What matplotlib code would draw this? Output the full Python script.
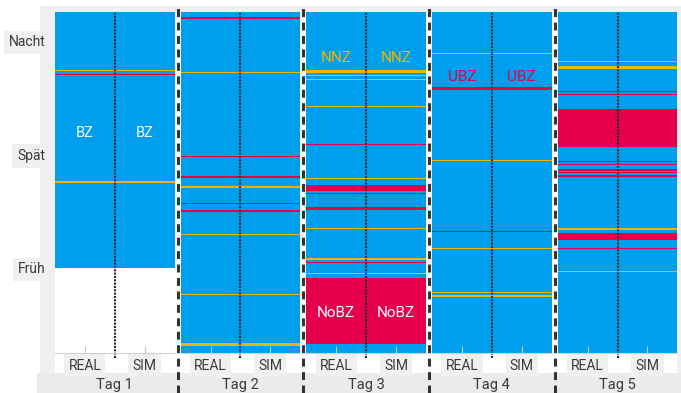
import matplotlib.pyplot as plt
from matplotlib.patches import Rectangle
from matplotlib.lines import Line2D

plt.rcParams['font.family'] = ['Roboto', 'DejaVu Sans']

# -----------------------------
# Daten (Stunden, 0 = unten, 24 = oben)
# -----------------------------
tage = ['Tag 1', 'Tag 2', 'Tag 3', 'Tag 4', 'Tag 5']
spalten = ['REAL', 'SIM']
schichten = ['Früh', 'Spät', 'Nacht']
schicht_beginn = [6, 14, 22]

# Beginn der BZ (blau) je Tag
bz_beginn = [6, 0, 0, 0, 0]

# NNZ (gelb): Mitte und Dauer in Stunden
nnz_mitte = [
    [22.06, 19.89, 12.05],
    [21.99, 19.78, 11.68, 8.37, 4.14, 0.61],
    [19.87, 19.57, 19.29, 17.36, 12.31, 8.79, 6.62, 6.13, 5.62],
    [21.12, 13.55, 10.36, 9.02, 7.38, 4.28, 4.02],
    [20.53, 20.11, 18.89, 17.41, 11.01, 8.74, 5.73],
]
nnz_dauer = [
    [0.05, 0.08, 0.15],
    [0.05, 0.03, 0.15, 0.04, 0.10, 0.17],
    [0.22, 0.05, 0.10, 0.05, 0.03, 0.05, 0.10, 0.06, 0.05],
    [0.10, 0.10, 0.03, 0.03, 0.04, 0.04, 0.12],
    [0.05, 0.17, 0.05, 0.05, 0.04, 0.08, 0.10],
]

# UBZ (rot): Mitte und Dauer in Stunden
ubz_mitte = [
    [19.64],
    [23.64, 13.83, 12.42, 11.13, 10.55, 10.03, 9.65, 6.27],
    [14.86, 14.72, 11.63, 11.24, 10.18, 6.39],
    [18.63, 15.72, 12.19, 8.55],
    [18.44, 18.23, 15.85, 13.50, 13.27, 12.90, 12.73, 12.47, 11.77, 8.22, 7.38],
]
ubz_dauer = [
    [0.05],
    [0.14, 0.06, 0.17, 0.05, 0.09, 0.15, 0.05, 0.06],
    [0.03, 0.07, 0.42, 0.06, 0.26, 0.05],
    [0.20, 0.05, 0.06, 0.09],
    [0.06, 0.10, 2.70, 0.10, 0.08, 0.12, 0.05, 0.12, 0.06, 0.52, 0.07],
]

# NoBZ-Block an Tag 3
nobz_tag = 2
nobz_beginn = 0.63
nobz_dauer = 4.63

BLAU = '#009fee'
ROT = '#e6004c'
GELB = '#f0b400'
GRAU = '#f0f0f0'
TEXT = '#3a3a3a'

W, H = 681, 393

# -----------------------------
# Figur
# -----------------------------
fig = plt.figure(figsize=(W / 100, H / 100), dpi=100)

# Hintergruende
fig.patches.append(Rectangle((40 / W, 0), 641 / W, 387 / H, transform=fig.transFigure,
                             fc=GRAU, ec='none', zorder=-10))
fig.patches.append(Rectangle((55 / W, 1 - 373 / H), 622 / W, 360.5 / H, transform=fig.transFigure,
                             fc='white', ec='none', zorder=-9))
fig.patches.append(Rectangle((37 / W, 0), 644 / W, 20 / H, transform=fig.transFigure,
                             fc='#ebebeb', ec='none', zorder=-8))

for i, tag in enumerate(tage):
    links = 55 + i * 125.7
    ax = fig.add_axes([links / W, 1 - 353 / H, 119.5 / W, 340.5 / H])
    ax.set_xlim(0, 2)
    ax.set_ylim(0, 24)
    ax.set_facecolor('white')

    ax.barh(bz_beginn[i], 2, height=24 - bz_beginn[i], left=0, align='edge', color=BLAU, lw=0)
    ax.barh(nnz_mitte[i], 2, height=nnz_dauer[i], left=0, color=GELB, lw=0)
    ax.barh(ubz_mitte[i], 2, height=ubz_dauer[i], left=0, color=ROT, lw=0)
    if i == nobz_tag:
        ax.barh(nobz_beginn, 2, height=nobz_dauer, left=0, align='edge', color=ROT, lw=0)

    # gepunktete Trennung REAL / SIM
    ax.axvline(1, ymin=-0.015, ymax=1, color='#1d2b36', lw=1.5, ls=(0, (1, 0.6)), clip_on=False)

    for s in ['top', 'left', 'right']:
        ax.spines[s].set_visible(False)
    ax.spines['bottom'].set_color('#d0d0d0')

    ax.set_xticks([0.5, 1.5], spalten)
    ax.tick_params(axis='x', direction='in', length=5, color='#c8c8c8', pad=4,
                   labelsize=10, labelcolor=TEXT)
    for lab in ax.get_xticklabels():
        lab.set_bbox(dict(boxstyle='square,pad=0.3', fc=GRAU, ec='none'))
    ax.set_xlabel(tag, fontsize=10.5, color=TEXT, labelpad=4)

    if i == 0:
        ax.set_yticks(schicht_beginn, schichten)
        ax.tick_params(axis='y', length=0, pad=7, labelsize=10, labelcolor=TEXT)
        for lab in ax.get_yticklabels():
            lab.set_bbox(dict(boxstyle='square,pad=0.35', fc=GRAU, ec='none'))
    else:
        ax.set_yticks([])

    # Beschriftungen
    if i == 0:
        for x in [0.5, 1.5]:
            ax.text(x, 15.5, 'BZ', color='white', ha='center', va='center', fontsize=10.5)
    if i == 2:
        for x in [0.5, 1.5]:
            ax.text(x, 20.8, 'NNZ', color=GELB, ha='center', va='center', fontsize=11)
            ax.text(x, 2.84, 'NoBZ', color='white', ha='center', va='center', fontsize=11)
    if i == 3:
        for x in [0.5, 1.5]:
            ax.text(x, 19.45, 'UBZ', color=ROT, ha='center', va='center', fontsize=11)

# gestrichelte Trennlinien zwischen den Tagen
for x in [177.5, 303, 428.5, 554.5]:
    fig.lines.append(Line2D([x / W, x / W], [0, 1 - 6 / H], transform=fig.transFigure,
                            color='#333333', lw=2.2, ls=(0, (2.6, 1.8)), zorder=5))

fig.savefig('out.png', dpi=100)
